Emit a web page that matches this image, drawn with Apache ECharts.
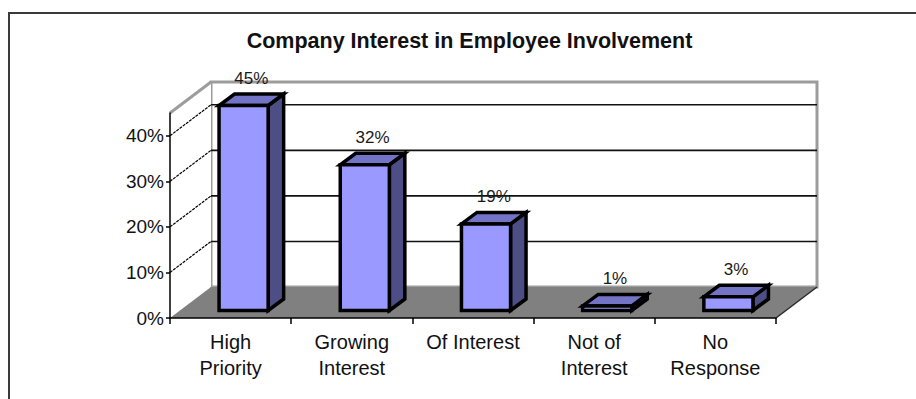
<!DOCTYPE html>
<html>
<head>
<meta charset="utf-8">
<title>Company Interest in Employee Involvement</title>
<script src="https://cdn.jsdelivr.net/npm/echarts@6/dist/echarts.min.js"></script>
<style>
  html, body { margin: 0; padding: 0; background: #ffffff; }
  #chart { width: 916px; height: 399px; }
</style>
</head>
<body>
<div id="chart"></div>
<script>
// Survey responses (percent of companies)
const categories = ['High\nPriority', 'Growing\nInterest', 'Of Interest', 'Not of\nInterest', 'No\nResponse'];
const shares = [45, 32, 19, 1, 3];
const percentTicks = [0, 10, 20, 30, 40];
const axisMax = 45;

const FONT = "'Liberation Sans', Arial, Helvetica, sans-serif";

// Pseudo-3D geometry: depth vector of the floor, and where the column sits inside that depth
const DEPTH = [41, -31];
const COL_FRONT = [11, -7.5];
const COL_BACK = [26.5, -19];
const COL_HALF = 0.2025;   // half column width as a fraction of the band
const COL_SHIFT = 2;       // small sideways nudge of the columns

const FACE_FRONT = '#9999ff';
const FACE_TOP = '#7474c6';
const FACE_SIDE = '#4e4e86';

const chart = echarts.init(document.getElementById('chart'), null, { renderer: 'svg' });

function renderFrame(params, api) {
  const band = api.size([1, 0])[0];
  const base0 = api.coord([0, 0]);
  const baseN = api.coord([categories.length - 1, 0]);
  const x0 = base0[0] - band / 2;
  const x1 = baseN[0] + band / 2;
  const y0 = base0[1];
  const yTop = api.coord([0, axisMax])[1];
  const dx = DEPTH[0], dy = DEPTH[1];
  const children = [];

  // back wall
  children.push({
    type: 'rect',
    shape: { x: x0 + dx, y: yTop + dy, width: x1 - x0, height: y0 - yTop },
    style: { fill: '#ffffff', stroke: '#9c9c9c', lineWidth: 3 }
  });
  // left side wall
  children.push({
    type: 'polygon',
    shape: { points: [[x0, yTop], [x0 + dx, yTop + dy], [x0 + dx, y0 + dy], [x0, y0]] },
    style: { fill: '#ffffff' }
  });
  children.push({
    type: 'line',
    shape: { x1: x0, y1: yTop, x2: x0 + dx, y2: yTop + dy },
    style: { stroke: '#9c9c9c', lineWidth: 3 }
  });
  // floor
  children.push({
    type: 'polygon',
    shape: { points: [[x0, y0], [x0 + dx, y0 + dy], [x1 + dx, y0 + dy], [x1, y0]] },
    style: { fill: '#808080' }
  });
  children.push({
    type: 'line',
    shape: { x1: x1, y1: y0, x2: x1 + dx, y2: y0 + dy },
    style: { stroke: '#2a2a2a', lineWidth: 1.5 }
  });
  // gridlines on the back and side walls
  percentTicks.forEach(function (v) {
    if (v === 0) return;
    const y = api.coord([0, v])[1];
    children.push({
      type: 'line',
      shape: { x1: x0 + dx, y1: y + dy, x2: x1 + dx, y2: y + dy },
      style: { stroke: '#111111', lineWidth: 1.6 }
    });
    children.push({
      type: 'line',
      shape: { x1: x0, y1: y, x2: x0 + dx, y2: y + dy },
      style: { stroke: '#000000', lineWidth: 1.2, lineDash: [3, 1] }
    });
  });
  return { type: 'group', children: children };
}

function renderColumn(params, api) {
  const idx = api.value(0);
  const val = api.value(1);
  const band = api.size([1, 0])[0];
  const base = api.coord([idx, 0]);
  const top = api.coord([idx, val]);
  const half = band * COL_HALF;
  const cx = base[0] + COL_SHIFT;
  const xL = cx - half + COL_FRONT[0];
  const xR = cx + half + COL_FRONT[0];
  const yB = base[1] + COL_FRONT[1];
  const yT = top[1] + COL_FRONT[1];
  const ddx = COL_BACK[0] - COL_FRONT[0];
  const ddy = COL_BACK[1] - COL_FRONT[1];
  const edge = { stroke: '#000000', lineWidth: 3.5, lineJoin: 'miter' };

  return {
    type: 'group',
    children: [
      {
        type: 'polygon',
        shape: { points: [[xR, yT], [xR + ddx, yT + ddy], [xR + ddx, yB + ddy], [xR, yB]] },
        style: Object.assign({ fill: FACE_SIDE }, edge)
      },
      {
        type: 'polygon',
        shape: { points: [[xL, yT], [xR, yT], [xR + ddx, yT + ddy], [xL + ddx, yT + ddy]] },
        style: Object.assign({ fill: FACE_TOP }, edge)
      },
      {
        type: 'polygon',
        shape: { points: [[xL, yT], [xR, yT], [xR, yB], [xL, yB]] },
        style: Object.assign({ fill: FACE_FRONT }, edge)
      },
      {
        type: 'text',
        style: {
          x: (xL + xR) / 2 + ddx / 2,
          y: yT + ddy - 16,
          text: val + '%',
          align: 'center',
          verticalAlign: 'middle',
          font: '17px ' + FONT,
          fill: '#1a1a1a'
        }
      }
    ]
  };
}

chart.setOption({
  animation: false,
  backgroundColor: '#ffffff',
  grid: { left: 170, right: 140, top: 113, bottom: 81, containLabel: false },
  graphic: [
    {
      type: 'polyline',
      shape: { points: [[9, 420], [9, 13], [930, 13]] },
      style: { stroke: '#3a3a3a', lineWidth: 2, fill: null }
    },
    {
      type: 'text',
      x: 469.5,
      y: 41,
      style: {
        text: 'Company Interest in Employee Involvement',
        align: 'center',
        verticalAlign: 'middle',
        font: 'bold 21.5px ' + FONT,
        fill: '#111111'
      }
    }
  ],
  xAxis: {
    type: 'category',
    data: categories,
    z: 5,
    boundaryGap: true,
    axisLine: { show: true, lineStyle: { color: '#000000', width: 1.5 } },
    axisTick: { show: true, length: 6, lineStyle: { color: '#000000', width: 1.5 } },
    axisLabel: {
      interval: 0,
      margin: 11,
      fontFamily: FONT,
      fontSize: 20,
      lineHeight: 26,
      color: '#111111'
    },
    splitLine: { show: false }
  },
  yAxis: {
    type: 'value',
    min: 0,
    max: axisMax,
    interval: 10,
    z: 5,
    axisLine: { show: true, lineStyle: { color: '#000000', width: 1.5 } },
    axisTick: { show: true, length: 4, customValues: percentTicks, lineStyle: { color: '#000000', width: 1.5 } },
    axisLabel: {
      customValues: percentTicks,
      formatter: '{value}%',
      margin: 6,
      fontFamily: FONT,
      fontSize: 19,
      color: '#111111'
    },
    splitLine: { show: false }
  },
  series: [
    {
      type: 'custom',
      z: 1,
      silent: true,
      renderItem: renderFrame,
      data: [[0, 0]]
    },
    {
      type: 'custom',
      z: 3,
      renderItem: renderColumn,
      encode: { x: 0, y: 1 },
      data: shares.map(function (v, i) { return [i, v]; })
    }
  ]
});
</script>
</body>
</html>
